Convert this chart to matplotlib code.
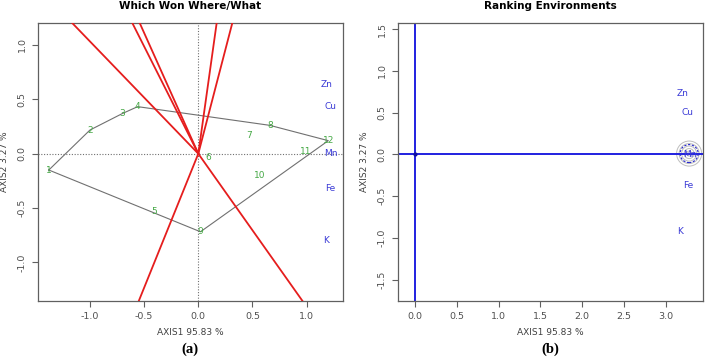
import numpy as np
import matplotlib
matplotlib.use("Agg")
import matplotlib.pyplot as plt

# ---------------- data ----------------
geno_labels = ["1", "2", "3", "4", "5", "6", "7", "8", "9", "10", "11", "12"]
geno_x = [-1.38, -1.00, -0.70, -0.56, -0.41, 0.09, 0.47, 0.66, 0.02, 0.57, 0.99, 1.20]
geno_y = [-0.15, 0.218, 0.37, 0.433, -0.533, -0.033, 0.166, 0.261, -0.718, -0.196, 0.018, 0.12]
hull_order = ["1", "2", "3", "4", "8", "12", "9"]

env_labels = ["Zn", "Cu", "Mn", "Fe", "K"]
env_x_a = [1.185, 1.216, 1.225, 1.216, 1.176]
env_y_a = [0.638, 0.432, 0.0, -0.318, -0.80]
env_x_b = [3.20, 3.26, 3.29, 3.27, 3.17]
env_y_b = [0.73, 0.50, 0.0, -0.368, -0.927]

aec_center = (3.28, 0.01)
aec_radius = 0.108
halo_radii = [0.03, 0.06, 0.09, 0.12, 0.15]

xticks_a = [-1.0, -0.5, 0.0, 0.5, 1.0]
yticks_a = [-1.0, -0.5, 0.0, 0.5, 1.0]
xticks_b = [0.0, 0.5, 1.0, 1.5, 2.0, 2.5, 3.0]
yticks_b = [-1.5, -1.0, -0.5, 0.0, 0.5, 1.0, 1.5]

xlabel = "AXIS1 95.83 %"
ylabel = "AXIS2 3.27 %"

# ---------------- style ----------------
GREEN = "#45a845"
BLUE = "#3a3ad6"
RED = "#e51d1d"
GRAY = "#707070"
FRAME = "#606060"

fig = plt.figure(figsize=(7.08, 3.57), dpi=100)
ax1 = fig.add_axes([0.0532, 0.1577, 0.4313, 0.7787])
ax2 = fig.add_axes([0.5617, 0.1577, 0.4317, 0.7787])


def style_axes(ax, xt, yt):
    for s in ax.spines.values():
        s.set_color(FRAME)
        s.set_linewidth(0.9)
    ax.set_xticks(xt)
    ax.set_yticks(yt)
    ax.set_xticklabels([f"{v:.1f}" for v in xt])
    ax.set_yticklabels([f"{v:.1f}" for v in yt], rotation=90, va="center")
    ax.tick_params(axis="both", direction="out", length=4, width=0.8,
                   color=FRAME, labelsize=6.8, labelcolor="#505050", pad=4)
    ax.set_xlabel(xlabel, fontsize=6.5, color="#404040", labelpad=5)
    ax.set_ylabel(ylabel, fontsize=6.5, color="#404040", labelpad=6)


# ---------------- panel (a) ----------------
ax1.set_xlim(-1.483, 1.336)
ax1.set_ylim(-1.352, 1.205)
style_axes(ax1, xticks_a, yticks_a)
ax1.axhline(0, color=GRAY, lw=0.8, ls=(0, (1, 1.5)))
ax1.axvline(0, color=GRAY, lw=0.8, ls=(0, (1, 1.5)))

idx = {l: i for i, l in enumerate(geno_labels)}
hx = [geno_x[idx[l]] for l in hull_order] + [geno_x[idx[hull_order[0]]]]
hy = [geno_y[idx[l]] for l in hull_order] + [geno_y[idx[hull_order[0]]]]
ax1.plot(hx, hy, color=GRAY, lw=0.8, zorder=2)

# sector lines: perpendicular from origin to each hull edge
for i in range(len(hx) - 1):
    p1 = np.array([hx[i], hy[i]])
    p2 = np.array([hx[i + 1], hy[i + 1]])
    d = p2 - p1
    t = -np.dot(p1, d) / np.dot(d, d)
    foot = p1 + t * d
    u = foot / np.linalg.norm(foot)
    ax1.plot([0, u[0] * 5], [0, u[1] * 5], color=RED, lw=1.3, zorder=3)

for l, x, y in zip(geno_labels, geno_x, geno_y):
    ax1.text(x, y, l, color=GREEN, fontsize=6.5, ha="center", va="center", zorder=4)
for l, x, y in zip(env_labels, env_x_a, env_y_a):
    ax1.text(x, y, l, color=BLUE, fontsize=6.5, ha="center", va="center", zorder=4)
ax1.set_title("Which Won Where/What", fontsize=7.5, fontweight="bold", pad=10)

# ---------------- panel (b) ----------------
ax2.set_xlim(-0.21, 3.45)
ax2.set_ylim(-1.753, 1.578)
style_axes(ax2, xticks_b, yticks_b)
for r in halo_radii:
    ax2.add_patch(plt.Circle(aec_center, r, fill=False, color="#bdbdbd", lw=0.7, zorder=1))
ax2.axhline(0, color="#2020e0", lw=1.4, zorder=2)
ax2.axvline(0, color="#2020e0", lw=1.4, zorder=2)
ax2.plot([0], [0], "o", color="#1010a0", ms=2, zorder=3)
ax2.add_patch(plt.Circle(aec_center, aec_radius, fill=False, color="#2a2ad0",
                         lw=0.8, ls=(0, (2, 1.5)), zorder=3))
for l, x, y in zip(env_labels, env_x_b, env_y_b):
    ax2.text(x, y, l, color=BLUE, fontsize=6.5, ha="center", va="center", zorder=4)
ax2.set_title("Ranking Environments", fontsize=7.5, fontweight="bold", pad=10)

# ---------------- captions ----------------
fig.text(0.268, 0.021, "(a)", fontsize=10.5, fontweight="bold", family="Liberation Serif",
         ha="center", va="center")
fig.text(0.777, 0.021, "(b)", fontsize=10.5, fontweight="bold", family="Liberation Serif",
         ha="center", va="center")

fig.savefig("out.png", dpi=100)
